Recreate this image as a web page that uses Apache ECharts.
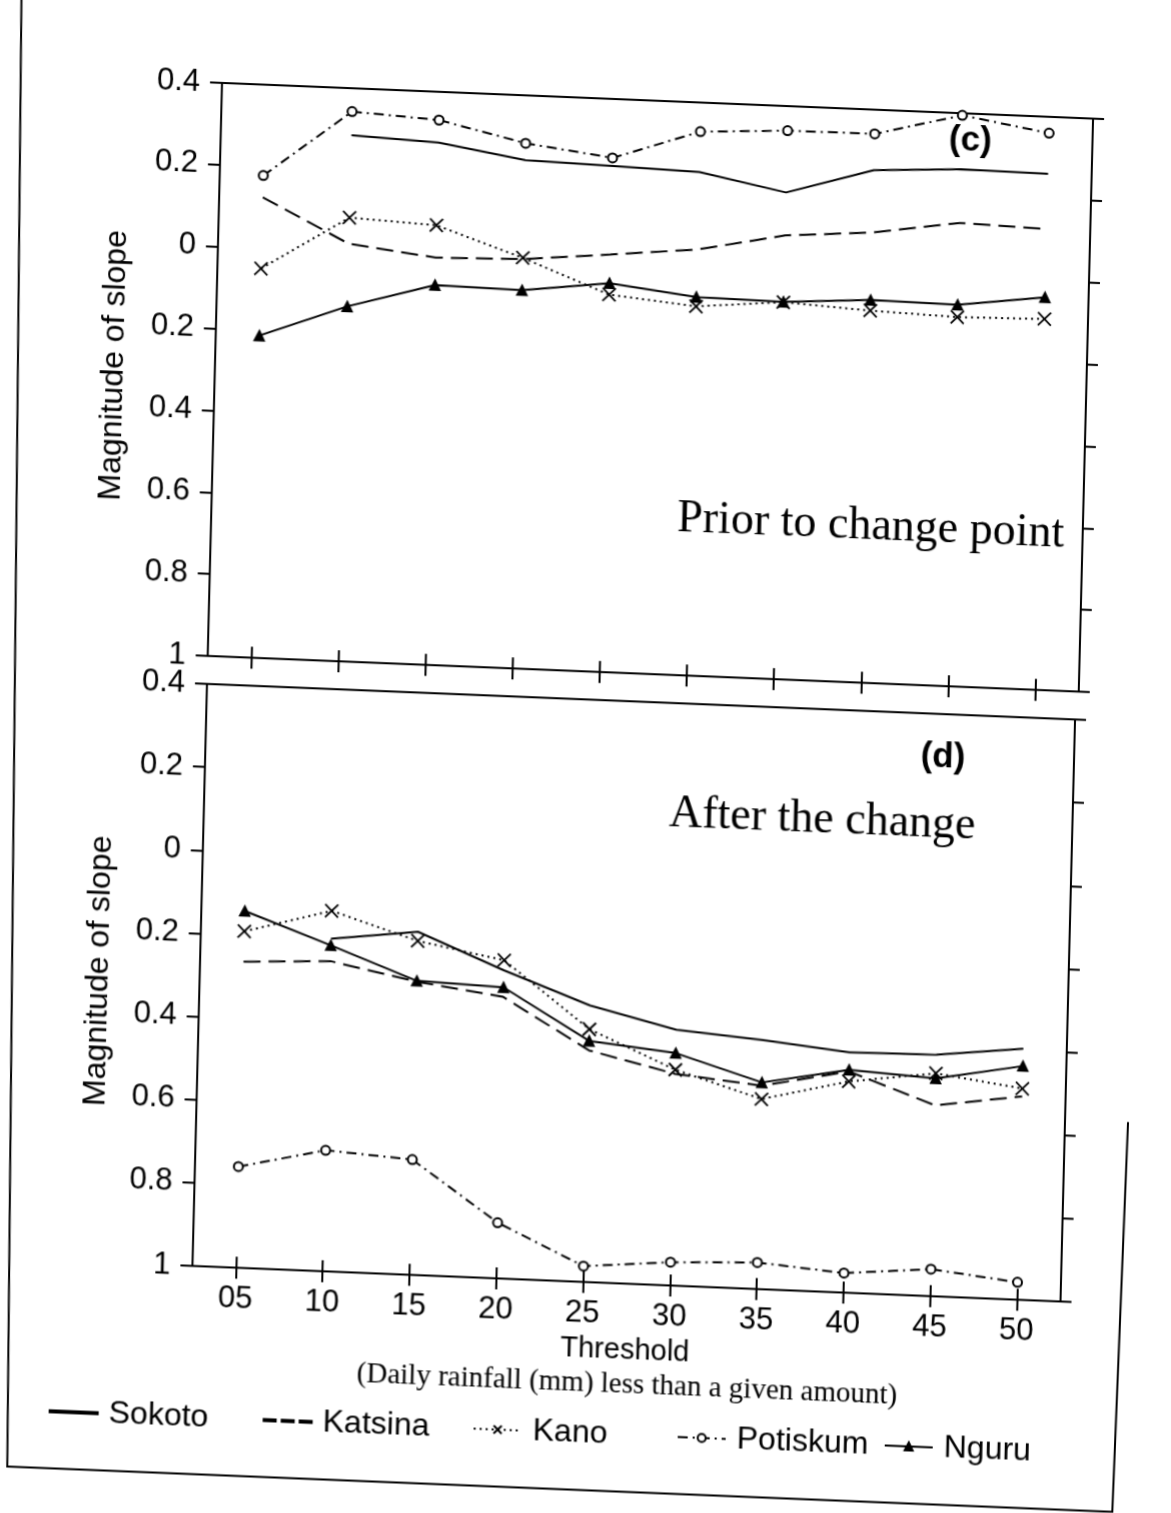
<!DOCTYPE html>
<html>
<head>
<meta charset="utf-8">
<script src="https://cdn.jsdelivr.net/npm/echarts@6/dist/echarts.min.js"></script>
<style>
  html, body { margin: 0; padding: 0; background: #fff; overflow: hidden; }
  #chart {
    position: absolute; left: 0; top: 0; width: 1171px; height: 1513px; background: #fff;
    transform-origin: 600px 700px;
    transform: matrix(1, 0.041, -0.025, 1, 0, 0);
  }
</style>
</head>
<body>
<div id="chart"></div>
<script>
// ---------- data ----------
const thresholds = ['05', '10', '15', '20', '25', '30', '35', '40', '45', '50'];
const yTicks = [-1, -0.8, -0.6, -0.4, -0.2, 0, 0.2, 0.4];

// panel (c) Prior to change point
const sokotoC   = [null, 0.285, 0.276, 0.242, 0.236, 0.230, 0.189, 0.252, 0.263, 0.261];
const katsinaC  = [0.125, 0.020, -0.005, 0.000, 0.020, 0.041, 0.084, 0.100, 0.132, 0.126];
const kanoC     = [-0.049, 0.084, 0.074, 0.003, -0.078, -0.098, -0.079, -0.091, -0.098, -0.094];
const potiskumC = [0.178, 0.343, 0.331, 0.283, 0.256, 0.329, 0.340, 0.341, 0.395, 0.360];
const nguruC    = [-0.213, -0.133, -0.072, -0.076, -0.050, -0.075, -0.078, -0.065, -0.068, -0.041];

// panel (d) After the change
const sokotoD   = [null, -0.200, -0.175, -0.259, -0.335, -0.385, -0.401, -0.422, -0.419, -0.396];
const katsinaD  = [-0.264, -0.254, -0.295, -0.323, -0.443, -0.491, -0.511, -0.468, -0.541, -0.511];
const kanoD     = [-0.191, -0.133, -0.197, -0.235, -0.392, -0.481, -0.543, -0.492, -0.464, -0.492];
const potiskumD = [-0.757, -0.709, -0.723, -0.866, -0.962, -0.944, -0.936, -0.953, -0.935, -0.958];
const nguruD    = [-0.142, -0.216, -0.293, -0.300, -0.420, -0.441, -0.503, -0.464, -0.476, -0.438];

// ---------- styling ----------
const SANS = '"Liberation Sans", Arial, Helvetica, sans-serif';
const SERIF = '"Liberation Serif", "Times New Roman", serif';
const BLACK = '#000';
const styles = {
  Sokoto:   { lineType: 'solid', symbol: 'none', symbolSize: 0 },
  Katsina:  { lineType: [17, 8], symbol: 'none', symbolSize: 0 },
  Kano:     { lineType: [2, 4], symbol: 'path://M0,0L10,10M10,0L0,10', symbolSize: 13 },
  Potiskum: { lineType: [10, 5, 2, 5], symbol: 'emptyCircle', symbolSize: 9 },
  Nguru:    { lineType: 'solid', symbol: 'triangle', symbolSize: 10 }
};
// legend icons for the plain-line series (no marker in the key)
const legendIcons = {
  Sokoto: { icon: 'rect', h: 2 },
  Katsina: { icon: 'path://M0,0h12v2h-12zM18,0h12v2h-12zM36,0h12v2h-12z', h: 2 }
};

function fmt(v) {
  const a = Math.abs(Math.round(v * 10) / 10);
  if (a === 0) return '0';
  if (a === 1) return '1';
  return a.toFixed(1);
}

function mkSeries(name, data, axisIdx) {
  const s = styles[name];
  return {
    name: name, type: 'line', data: data,
    xAxisIndex: axisIdx, yAxisIndex: axisIdx,
    symbol: s.symbol, symbolSize: s.symbolSize, showSymbol: s.symbol !== 'none',
    lineStyle: { color: BLACK, width: 2, type: s.lineType },
    itemStyle: { color: BLACK, borderColor: BLACK, borderWidth: name === 'Kano' ? 1.8 : 1.5 },
    animation: false, silent: true
  };
}

function mainX(gridIndex, showLabels) {
  return {
    type: 'category', data: thresholds, gridIndex: gridIndex, boundaryGap: true, position: 'bottom',
    axisLine: { show: true, onZero: false, lineStyle: { color: BLACK, width: 2 } },
    axisTick: { show: true, alignWithLabel: true, inside: false, length: 11, lineStyle: { color: BLACK, width: 2 } },
    axisLabel: { show: showLabels, color: BLACK, fontSize: 31, fontFamily: SANS, margin: 16 },
    splitLine: { show: false }
  };
}
function innerX(gridIndex) {
  return {
    type: 'category', data: thresholds, gridIndex: gridIndex, boundaryGap: true, position: 'bottom',
    axisLine: { show: false, onZero: false },
    axisTick: { show: true, alignWithLabel: true, inside: true, length: 11, lineStyle: { color: BLACK, width: 2 } },
    axisLabel: { show: false }, splitLine: { show: false }
  };
}
function leftY(gridIndex) {
  return {
    type: 'value', gridIndex: gridIndex, min: -1, max: 0.4, interval: 0.2, position: 'left',
    name: 'Magnitude of slope', nameLocation: 'middle', nameRotate: 90, nameGap: 85,
    nameTextStyle: { color: BLACK, fontSize: 32, fontFamily: SANS },
    axisLine: { show: true, onZero: false, lineStyle: { color: BLACK, width: 2 } },
    axisTick: { show: true, inside: false, length: 12, lineStyle: { color: BLACK, width: 2 } },
    axisLabel: { color: BLACK, fontSize: 31, fontFamily: SANS, margin: 22, formatter: fmt },
    splitLine: { show: false }
  };
}
function rightY(gridIndex) {
  return {
    type: 'value', gridIndex: gridIndex, min: -1, max: 0.4, interval: 0.2, position: 'right',
    axisLine: { show: true, onZero: false, lineStyle: { color: BLACK, width: 2 } },
    axisTick: { show: true, inside: false, length: 11, lineStyle: { color: BLACK, width: 2 } },
    axisLabel: { show: false }, splitLine: { show: false }
  };
}

const xAxes = [mainX(0, false), innerX(0), mainX(1, true), innerX(1)];
xAxes[2].name = 'Threshold';
xAxes[2].nameLocation = 'middle';
xAxes[2].nameGap = 52;
xAxes[2].nameTextStyle = { color: BLACK, fontSize: 29, fontFamily: SANS };

const yAxes = [leftY(0), rightY(0), leftY(1), rightY(1)];

const names = ['Sokoto', 'Katsina', 'Kano', 'Potiskum', 'Nguru'];
const topData = { Sokoto: sokotoC, Katsina: katsinaC, Kano: kanoC, Potiskum: potiskumC, Nguru: nguruC };
const botData = { Sokoto: sokotoD, Katsina: katsinaD, Kano: kanoD, Potiskum: potiskumD, Nguru: nguruD };
const series = [];
names.forEach(n => series.push(mkSeries(n, topData[n], 0)));
names.forEach(n => series.push(mkSeries(n, botData[n], 2)));

const legendLefts = { Sokoto: 62, Katsina: 276, Kano: 486, Potiskum: 690, Nguru: 897 };
const legends = names.map(n => {
  const li = legendIcons[n];
  return {
    data: [li ? { name: n, icon: li.icon } : n],
    left: legendLefts[n], top: 1412, orient: 'horizontal',
    itemWidth: 48, itemHeight: li ? li.h : 10, selectedMode: false,
    textStyle: { color: BLACK, fontSize: 32, fontFamily: SANS, padding: [0, 0, 0, 6] }
  };
});

function txt(x, y, text, font) {
  return { type: 'text', x: x, y: y, silent: true,
    style: { text: text, font: font, fill: BLACK, align: 'center', verticalAlign: 'middle',
             textAlign: 'center', textVerticalAlign: 'middle' } };
}

const option = {
  backgroundColor: '#fff',
  animation: false,
  grid: [
    { left: 207, top: 99, width: 871, height: 573, show: true, borderColor: BLACK, borderWidth: 2, backgroundColor: 'transparent' },
    { left: 207, top: 700, width: 868, height: 582, show: true, borderColor: BLACK, borderWidth: 2, backgroundColor: 'transparent' }
  ],
  xAxis: xAxes,
  yAxis: yAxes,
  legend: legends,
  series: series,
  graphic: [
    txt(956, 126, '(c)', 'bold 35px ' + SANS),
    txt(866, 516, 'Prior to change point', '46px ' + SERIF),
    txt(944, 743, '(d)', 'bold 35px ' + SANS),
    txt(825, 811, 'After the change', '46px ' + SERIF),
    txt(644, 1383, '(Daily rainfall (mm) less than a given amount)', '29px ' + SERIF),
    { type: 'polyline', silent: true,
      shape: { points: [[3.5, -40], [27, 1490], [1132, 1490], [1138, 1100]] },
      style: { stroke: BLACK, lineWidth: 2, fill: null } }
  ]
};

const chart = echarts.init(document.getElementById('chart'), null, { renderer: 'canvas' });
chart.setOption(option);
</script>
</body>
</html>
